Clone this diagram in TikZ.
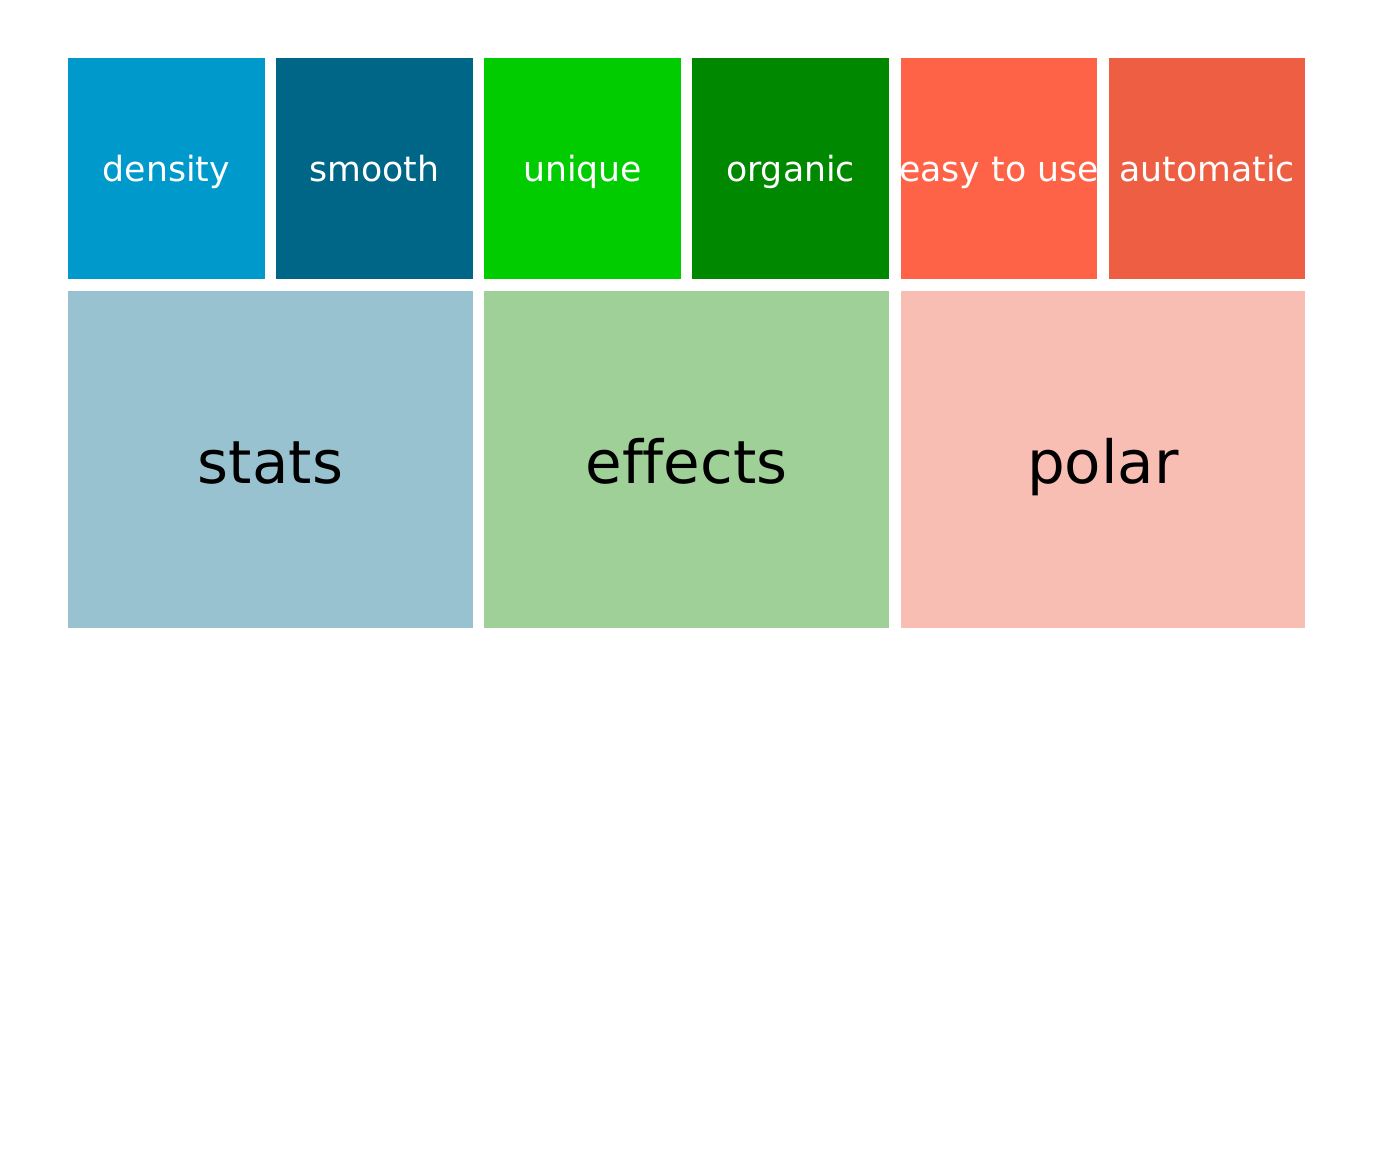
\documentclass[tikz,border=0pt]{standalone}
\usepackage{fontspec}
\setmainfont[Ligatures=NoCommon]{DejaVu Sans}
\definecolor{cDensity}{RGB}{0,153,204}
\definecolor{cSmooth}{RGB}{0,102,136}
\definecolor{cUnique}{RGB}{0,204,0}
\definecolor{cOrganic}{RGB}{0,136,0}
\definecolor{cEasy}{RGB}{255,99,71}
\definecolor{cAuto}{RGB}{238,94,66}
\definecolor{cStats}{RGB}{153,194,209}
\definecolor{cEffects}{RGB}{158,208,152}
\definecolor{cPolar}{RGB}{248,190,180}
\tikzset{
  tile/.style={rectangle, inner sep=0pt, draw=none},
  small/.style={tile, minimum height=221pt},
  big/.style={tile, minimum height=337pt},
  smalltext/.style={anchor=base, inner sep=0pt, text=white, font=\fontsize{34.7pt}{40pt}\selectfont},
  bigtext/.style={anchor=base, inner sep=0pt, text=black, font=\fontsize{59.5pt}{68pt}\selectfont},
}
\begin{document}
\begin{tikzpicture}[x=1pt, y=-1pt]
\useasboundingbox[fill=white] (0,0) rectangle (1374,1152);
% top row
\node[small, fill=cDensity, minimum width=197pt] (density) at (166.5,168.5) {};
\node[small, fill=cSmooth, minimum width=197pt] (smooth) at (374.5,168.5) {};
\node[small, fill=cUnique, minimum width=197pt] (unique) at (582.5,168.5) {};
\node[small, fill=cOrganic, minimum width=197pt] (organic) at (790.5,168.5) {};
\node[small, fill=cEasy, minimum width=196pt] (easy) at (999,168.5) {};
\node[small, fill=cAuto, minimum width=196pt] (automatic) at (1207,168.5) {};
% bottom row
\node[big, fill=cStats, minimum width=405pt] (stats) at (270.5,459.5) {};
\node[big, fill=cEffects, minimum width=405pt] (effects) at (686.5,459.5) {};
\node[big, fill=cPolar, minimum width=404pt] (polar) at (1103,459.5) {};
% labels
\foreach \n/\t in {density/density, smooth/smooth, unique/unique, organic/organic, automatic/automatic}{
  \node[smalltext] (\n-label) at ([yshift=-12.5pt]\n.center) {\t};
}
\begin{scope}
  \clip (easy.south west) rectangle (easy.north east);
  \node[smalltext] (easy-label) at ([yshift=-12.5pt]easy.center) {easy to use};
\end{scope}
\foreach \n in {stats, effects, polar}{
  \node[bigtext] (\n-label) at ([yshift=-23.5pt]\n.center) {\n};
}
\end{tikzpicture}
\end{document}
